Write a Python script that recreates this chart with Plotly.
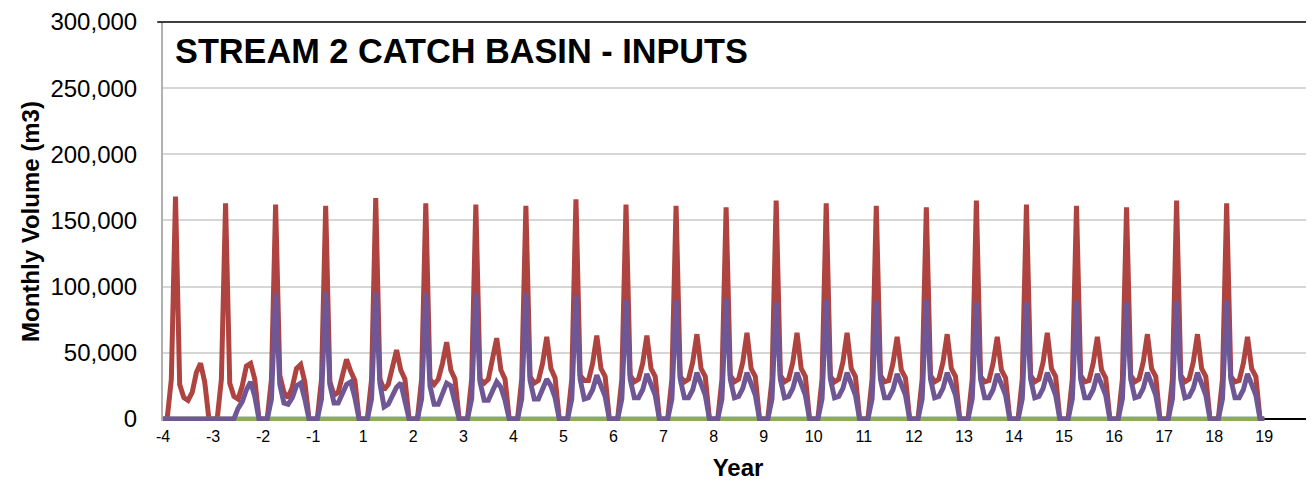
import plotly.graph_objects as go

# x-axis tick labels (one per model year, no year 0)
year_labels = ['-4', '-3', '-2', '-1', '1', '2', '3', '4', '5', '6', '7', '8',
               '9', '10', '11', '12', '13', '14', '15', '16', '17', '18', '19']

# Monthly volumes (m3), one row of 12 months per year, final point = first month of year 19
series_red = [
    0, 0, 30000, 168000, 26000, 16000, 14000, 20000, 35000, 42000, 28000, 0,      # -4
    0, 0, 30000, 163000, 27000, 17000, 15000, 25000, 40000, 42000, 30000, 0,      # -3
    0, 0, 30000, 162000, 33000, 20000, 16000, 24000, 38000, 41000, 28000, 0,      # -2
    0, 0, 30000, 161000, 28000, 18000, 20000, 32000, 45000, 36000, 29000, 0,      # -1
    0, 0, 30000, 167000, 30000, 22000, 26000, 38000, 52000, 37000, 30000, 0,      # 1
    0, 0, 30000, 163000, 30000, 26000, 30000, 42000, 58000, 37000, 30000, 0,      # 2
    0, 0, 30000, 162000, 30000, 27000, 30000, 45000, 61000, 37000, 30000, 0,      # 3
    0, 0, 30000, 161000, 32000, 27000, 29000, 42000, 62000, 38000, 31000, 0,      # 4
    0, 0, 30000, 166000, 33000, 29000, 29000, 42000, 63000, 38000, 32000, 0,      # 5
    0, 0, 30000, 162000, 33000, 28000, 30000, 42000, 63000, 38000, 32000, 0,      # 6
    0, 0, 30000, 161000, 32000, 28000, 30000, 43000, 64000, 38000, 32000, 0,      # 7
    0, 0, 30000, 160000, 33000, 28000, 30000, 43000, 65000, 38000, 32000, 0,      # 8
    0, 0, 30000, 165000, 33000, 28000, 30000, 43000, 65000, 38000, 32000, 0,      # 9
    0, 0, 30000, 163000, 32000, 28000, 30000, 43000, 65000, 38000, 32000, 0,      # 10
    0, 0, 30000, 161000, 33000, 28000, 29000, 42000, 62000, 37000, 31000, 0,      # 11
    0, 0, 30000, 160000, 33000, 28000, 30000, 43000, 64000, 38000, 32000, 0,      # 12
    0, 0, 30000, 165000, 32000, 28000, 29000, 42000, 62000, 37000, 31000, 0,      # 13
    0, 0, 30000, 162000, 33000, 28000, 30000, 43000, 65000, 38000, 32000, 0,      # 14
    0, 0, 30000, 161000, 33000, 28000, 29000, 42000, 62000, 37000, 31000, 0,      # 15
    0, 0, 30000, 160000, 33000, 28000, 30000, 43000, 64000, 38000, 32000, 0,      # 16
    0, 0, 30000, 165000, 33000, 28000, 30000, 43000, 64000, 38000, 32000, 0,      # 17
    0, 0, 30000, 163000, 32000, 28000, 29000, 42000, 62000, 38000, 32000, 0,      # 18
    0,                                                                            # 19
]

series_purple = [
    0, 0, 0, 0, 0, 0, 0, 0, 0, 0, 0, 0,                                           # -4
    0, 0, 0, 0, 0, 0, 8000, 13000, 22000, 28000, 17000, 0,                        # -3
    0, 0, 15000, 95000, 26000, 12000, 11000, 16000, 25000, 27000, 15000, 0,       # -2
    0, 0, 15000, 96000, 26000, 12000, 12000, 18000, 26000, 28000, 16000, 0,       # -1
    0, 0, 15000, 96000, 27000, 9000, 11000, 18000, 24000, 27000, 15000, 0,        # 1
    0, 0, 15000, 95000, 25000, 11000, 11000, 20000, 27000, 25000, 13000, 0,       # 2
    0, 0, 15000, 95000, 28000, 14000, 14000, 22000, 28000, 24000, 14000, 0,       # 3
    0, 0, 15000, 95000, 29000, 15000, 15000, 22000, 30000, 25000, 16000, 0,       # 4
    0, 0, 15000, 93000, 30000, 15000, 16000, 22000, 33000, 26000, 17000, 0,       # 5
    0, 0, 15000, 90000, 30000, 16000, 16000, 22000, 34000, 26000, 18000, 0,       # 6
    0, 0, 15000, 90000, 30000, 16000, 16000, 22000, 35000, 26000, 18000, 0,       # 7
    0, 0, 15000, 91000, 30000, 16000, 17000, 23000, 35000, 26000, 18000, 0,       # 8
    0, 0, 15000, 88000, 30000, 16000, 17000, 23000, 35000, 26000, 18000, 0,       # 9
    0, 0, 15000, 90000, 30000, 16000, 17000, 23000, 35000, 26000, 18000, 0,       # 10
    0, 0, 15000, 89000, 30000, 16000, 16000, 22000, 34000, 26000, 18000, 0,       # 11
    0, 0, 15000, 90000, 30000, 16000, 17000, 23000, 35000, 26000, 18000, 0,       # 12
    0, 0, 15000, 88000, 30000, 16000, 16000, 22000, 34000, 26000, 18000, 0,       # 13
    0, 0, 15000, 88000, 30000, 16000, 17000, 23000, 35000, 26000, 18000, 0,       # 14
    0, 0, 15000, 89000, 30000, 16000, 16000, 22000, 34000, 26000, 18000, 0,       # 15
    0, 0, 15000, 88000, 30000, 16000, 17000, 23000, 35000, 26000, 18000, 0,       # 16
    0, 0, 15000, 89000, 30000, 16000, 17000, 23000, 35000, 26000, 18000, 0,       # 17
    0, 0, 15000, 89000, 30000, 16000, 16000, 22000, 34000, 26000, 18000, 0,       # 18
    0,                                                                            # 19
]

series_blue = [0] * len(series_red)
series_green = [0] * len(series_red)

months = list(range(len(series_red)))
tick_positions = [12 * i for i in range(len(year_labels))]

FONT = "Arial, 'Liberation Sans', sans-serif"

fig = go.Figure()
fig.add_trace(go.Scatter(x=months, y=series_blue, mode="lines", name="Series 1",
                         line=dict(color="#4F81BD", width=4.5)))
fig.add_trace(go.Scatter(x=months, y=series_red, mode="lines", name="Series 2",
                         line=dict(color="#AE433F", width=5)))
fig.add_trace(go.Scatter(x=months, y=series_green, mode="lines", name="Series 3",
                         line=dict(color="#8CAD50", width=4.5)))
fig.add_trace(go.Scatter(x=months, y=series_purple, mode="lines", name="Series 4",
                         line=dict(color="#6F5795", width=5)))

# page body has an 8px default margin: figure is sized so the plot lands where the reference has it
fig.update_layout(
    width=1306, height=477,
    margin=dict(l=155, r=1, t=14, b=64),
    paper_bgcolor="white", plot_bgcolor="white",
    showlegend=False,
    font=dict(family=FONT, color="black"),
    annotations=[dict(
        text="<b>STREAM 2 CATCH BASIN - INPUTS</b>",
        xref="paper", yref="paper", x=0.0087, y=0.928,
        xanchor="left", yanchor="middle", showarrow=False,
        font=dict(family=FONT, size=34.3, color="black"),
    )],
    shapes=[dict(type="line", xref="paper", yref="paper", x0=-0.005, x1=1, y0=1, y1=1,
                 line=dict(color="black", width=1.5))],
)

fig.update_xaxes(
    range=[0, 275.7],
    tickmode="array", tickvals=tick_positions, ticktext=year_labels,
    tickfont=dict(family=FONT, size=16, color="black"),
    ticks="", ticklabelstandoff=4,
    showgrid=False, zeroline=False,
    showline=False,
    title=dict(text="<b>Year</b>", font=dict(family=FONT, size=24, color="black"), standoff=15),
)

fig.update_yaxes(
    range=[-1600, 300000],
    tickvals=[0, 50000, 100000, 150000, 200000, 250000, 300000],
    tickformat=",d",
    tickfont=dict(family=FONT, size=24, color="black"),
    ticks="", ticklabelstandoff=19,
    showgrid=True, gridcolor="#D6D6D6", gridwidth=2,
    zeroline=True, zerolinecolor="black", zerolinewidth=1.5,
    showline=True, linecolor="#B0B0B0", linewidth=2,
    layer="below traces",
    title=dict(text="<b>Monthly Volume (m3)</b>", font=dict(family=FONT, size=24, color="black"), standoff=4),
)

fig.write_html("out.html")
